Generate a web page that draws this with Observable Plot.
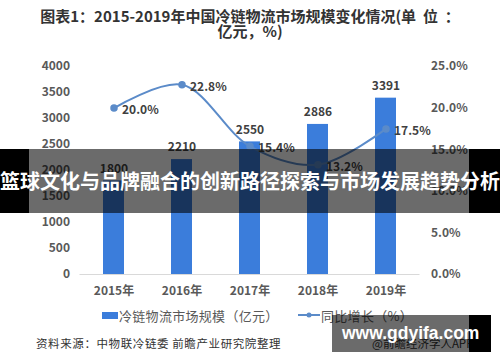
<!DOCTYPE html>
<html>
<head>
<meta charset="utf-8">
<script src="https://cdn.jsdelivr.net/npm/d3@7"></script>
<script src="https://cdn.jsdelivr.net/npm/@observablehq/plot@0.6"></script>
<style>
  html, body { margin: 0; padding: 0; background: #fff; }
  #root { position: relative; width: 500px; height: 362px; overflow: hidden; font-family: "Noto Sans CJK SC", "Noto Sans", sans-serif; background: #fff; }
  .abs { position: absolute; }
  #title { left: 0; top: 8px; width: 500px; text-align: center; font-weight: bold; font-size: 15px; line-height: 15px; color: #333; }
  #chart { left: 0; top: 40px; }
  .leg { font-size: 13px; color: #595959; white-space: nowrap; line-height: 13px; letter-spacing: 0.3px; }
  #source { left: 36px; top: 336px; font-size: 11.5px; line-height: 14px; color: #333; white-space: nowrap; letter-spacing: 0.6px; }
  #app { left: 372px; top: 336px; font-size: 11.5px; line-height: 14px; color: #333; white-space: nowrap; }
  #banner-text { left: -20px; top: 149px; width: 540px; height: 64px; line-height: 64px; text-align: center; color: #fff; font-weight: bold; font-size: 20px; white-space: nowrap; }
  #wm-text { left: 342px; top: 315px; height: 37px; line-height: 37px; color: #fff; font-weight: bold; font-size: 17.5px; font-family: "Liberation Sans", Arial, sans-serif; white-space: nowrap; }
</style>
</head>
<body>
<div id="root">
  <div id="title" class="abs">图表1：2015-2019年中国冷链物流市场规模变化情况(单&nbsp;&nbsp;位&nbsp;&nbsp;：<br>亿元，%)</div>
  <div id="chart" class="abs"></div>
  <div id="legend"></div>
  <div id="source" class="abs">资料来源：中物联冷链委 前瞻产业研究院整理</div>
  <div id="app" class="abs">@前瞻经济学人APP</div>
  <!-- overlays -->
  <div class="abs" style="left:0;top:149px;width:29px;height:64px;background:#000"></div>
  <div class="abs" style="left:29px;top:149px;width:440px;height:64px;background:rgba(0,0,0,0.58)"></div>
  <div class="abs" style="left:469px;top:149px;width:31px;height:64px;background:#000"></div>
  <div id="banner-text" class="abs">篮球文化与品牌融合的创新路径探索与市场发展趋势分析</div>
  <div class="abs" style="left:332px;top:315px;width:137px;height:37px;background:rgba(0,0,0,0.58)"></div>
  <div class="abs" style="left:469px;top:315px;width:22px;height:37px;background:#000"></div>
  <div id="wm-text" class="abs">www.gdyifa.com</div>
</div>
<script>
// ---- data ----
const years = ["2015年", "2016年", "2017年", "2018年", "2019年"];
const marketSize = [1800, 2210, 2550, 2886, 3391];          // 冷链物流市场规模（亿元）
const growth = [20.0, 22.8, 15.4, 13.2, 17.5];              // 同比增长（%）
const leftTicks = [0, 500, 1000, 1500, 2000, 2500, 3000, 3500, 4000];
const rightTicks = [0, 5, 10, 15, 20, 25];
const seriesNames = ["冷链物流市场规模（亿元）", "同比增长（%）"];

const barColor = "#3b7ddb";
const lineColor = "#5b8bc9";
const pctScale = 4000 / 25; // right axis: 25% ↔ 4000

const data = years.map((y, i) => ({ year: y, size: marketSize[i], pct: growth[i] }));

const chart = Plot.plot({
  width: 500,
  height: 262,
  marginLeft: 79.5,
  marginRight: 80.5,
  marginTop: 26,
  marginBottom: 28,
  style: { fontFamily: '"Noto Sans CJK SC", "Noto Sans", sans-serif', fontSize: "12px", color: "#595959", background: "transparent" },
  x: { domain: years, paddingInner: 0.69, paddingOuter: 0.345, label: null },
  y: { domain: [0, 4000], label: null },
  marks: [
    Plot.axisX({ tickSize: 0, tickPadding: 12, label: null, fontWeight: "bold", fill: "#595959" }),
    Plot.axisY({ anchor: "left", ticks: leftTicks, tickFormat: d => String(d), tickSize: 0, tickPadding: 10, label: null, fontWeight: "bold", fill: "#595959" }),
    Plot.axisY({ anchor: "right", ticks: rightTicks.map(v => v * pctScale), tickFormat: v => (v / pctScale).toFixed(1) + "%", tickSize: 0, tickPadding: 11, label: null, fontWeight: "bold", fill: "#595959" }),
    Plot.barY(data, { x: "year", y: "size", fill: barColor }),
    Plot.ruleY([0], { stroke: "#d9d9d9" }),
    Plot.text(data, { x: "year", y: "size", text: d => String(d.size), dy: -12, fill: "#404040", fontWeight: "bold" }),
    Plot.line(data, { x: "year", y: d => d.pct * pctScale, curve: "catmull-rom", stroke: lineColor, strokeWidth: 2 }),
    Plot.dot(data, { x: "year", y: d => d.pct * pctScale, r: 3, fill: lineColor, stroke: lineColor }),
    Plot.text(data, { x: "year", y: d => d.pct * pctScale, text: d => d.pct.toFixed(1) + "%", textAnchor: "start", dx: 8, dy: 2, fill: "#404040", fontWeight: "bold" })
  ]
});
document.getElementById("chart").appendChild(chart);

// legend
const legend = document.getElementById("legend");
legend.innerHTML =
  `<div class="abs" style="left:102px;top:312px;width:16px;height:7px;background:${barColor}"></div>` +
  `<div class="abs leg" style="left:119px;top:309px">${seriesNames[0]}</div>` +
  `<svg class="abs" style="left:297px;top:310px" width="24" height="10"><line x1="1" y1="5" x2="23" y2="5" stroke="${lineColor}" stroke-width="2"/><circle cx="12" cy="5" r="2.5" fill="${lineColor}"/></svg>` +
  `<div class="abs leg" style="left:321px;top:309px">${seriesNames[1]}</div>`;
</script>
</body>
</html>
